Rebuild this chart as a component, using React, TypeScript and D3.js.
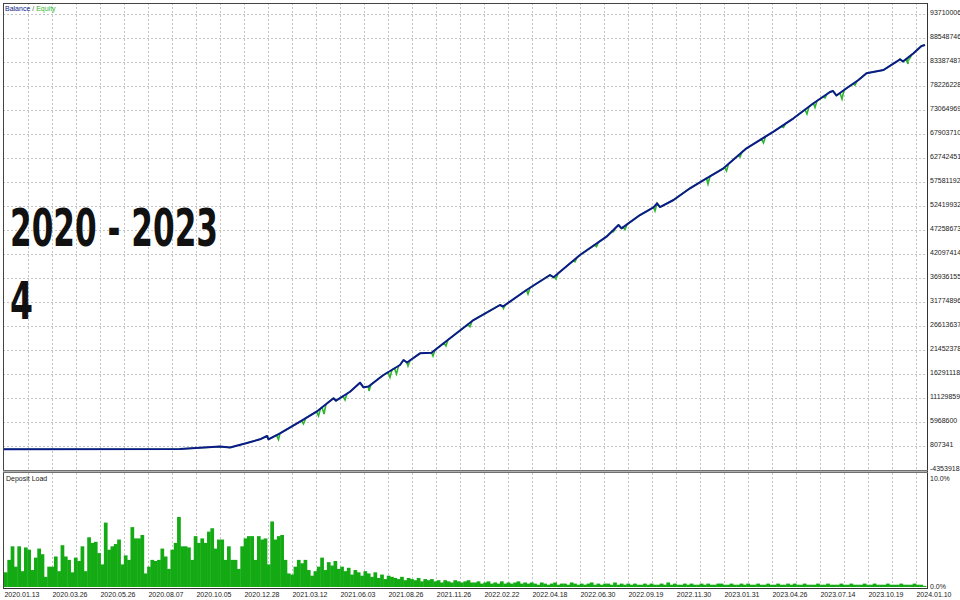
import * as d3 from "d3";

// right-hand axis of the balance panel
const yTickValues = [
  93710006, 88548746, 83387487, 78226228, 73064969, 67903710, 62742451,
  57581192, 52419932, 47258673, 42097414, 36936155, 31774896, 26613637,
  21452378, 16291118, 11129859, 5968600, 807341, -4353918,
];

const dateLabels = [
  "2020.01.13", "2020.03.26", "2020.05.26", "2020.08.07", "2020.10.05",
  "2020.12.28", "2021.03.12", "2021.06.03", "2021.08.26", "2021.11.26",
  "2022.02.22", "2022.04.18", "2022.06.30", "2022.09.19", "2022.11.30",
  "2023.01.31", "2023.04.26", "2023.07.14", "2023.10.19", "2024.01.10",
];

const totalTrades = 1842;

// [trade #, balance]
const balance: [number, number][] = [
  [0, 100000], [352, 160000], [392, 420000], [432, 680000], [452, 500000],
  [484, 1390000], [512, 2250000], [526, 2960000], [529, 2250000], [552, 3540000],
  [592, 6030000], [625, 8180000], [659, 11070000], [664, 10550000], [692, 12480000],
  [712, 14420000], [719, 13430000], [729, 13600000], [759, 16080000], [792, 18230000],
  [799, 19300000], [806, 18760000], [832, 20740000], [855, 20870000], [892, 23970000],
  [939, 27900000], [992, 31130000], [998, 30810000], [1045, 34360000], [1092, 37580000],
  [1099, 37090000], [1152, 41880000], [1205, 45820000], [1229, 48330000], [1235, 47620000],
  [1272, 50480000], [1299, 52140000], [1306, 53000000], [1312, 52200000], [1339, 53710000],
  [1372, 56230000], [1405, 58380000], [1439, 60530000], [1485, 64830000], [1539, 68400000],
  [1579, 71280000], [1619, 74510000], [1652, 76940000], [1658, 77150000], [1665, 76180000],
  [1685, 77730000], [1709, 79520000], [1725, 80960000], [1759, 81670000], [1785, 83450000],
  [1792, 83970000], [1798, 83500000], [1819, 85260000], [1835, 86830000], [1842, 87040000],
];

// [trade #, equity low] where equity falls under balance
const equityDips: [number, number][] = [
  [549, 2210000], [599, 5540000], [629, 7260000], [640, 7690000], [682, 10700000],
  [730, 12640000], [772, 15540000], [785, 16290000], [808, 18010000], [858, 20160000],
  [884, 22310000], [932, 26460000], [999, 30420000], [1048, 33500000], [1104, 36720000],
  [1142, 40440000], [1185, 43670000], [1219, 46890000], [1242, 47370000], [1302, 51340000],
  [1408, 57150000], [1445, 59950000], [1472, 62960000], [1519, 65970000], [1559, 69300000],
  [1606, 72200000], [1622, 73600000], [1642, 75650000], [1676, 75430000], [1702, 78440000],
  [1808, 82960000], [1812, 84250000],
];

// deposit load, %
const depositLoad = [
  1.3, 2.4, 3.6, 1.8, 3.6, 1.4, 3.5, 3.3, 1.5, 2.6, 3.4, 2.9, 0.9, 1.8, 1.8, 2.7,
  1.4, 3.7, 2.7, 2.4, 1.3, 2.6, 2.3, 3.6, 1.4, 4.4, 3.9, 4.0, 3.0, 2.0, 5.7, 3.3,
  3.6, 3.8, 4.2, 2.0, 2.8, 2.4, 5.3, 4.3, 4.3, 4.6, 1.2, 1.8, 2.4, 2.3, 2.4, 3.4,
  2.7, 1.6, 3.3, 3.9, 6.2, 3.6, 3.6, 3.5, 2.4, 4.5, 3.9, 4.3, 3.9, 4.9, 5.2, 3.4,
  4.2, 4.2, 2.4, 3.6, 2.4, 2.4, 1.6, 3.6, 4.3, 4.5, 4.5, 2.4, 4.5, 4.2, 4.3, 2.0,
  5.8, 4.2, 4.5, 4.6, 2.4, 1.2, 1.1, 1.8, 2.4, 2.1, 2.4, 1.5, 1.0, 1.4, 1.8,
  2.6, 1.5, 2.2, 1.9, 2.3, 1.6,
  1.8, 1.4, 1.7, 1.1, 1.5, 1.3, 1.0, 1.4,
  1.2, 0.9, 1.3, 0.8, 1.1, 0.7, 1.0, 0.9,
  0.8, 0.7, 0.9, 0.6, 0.8, 0.7, 0.6, 0.8, 0.5, 0.7, 0.6, 0.7,
  0.5, 0.6, 0.4, 0.6, 0.5, 0.4, 0.6, 0.5, 0.4, 0.5, 0.6, 0.4,
  0.4, 0.5, 0.3, 0.4, 0.5, 0.3, 0.4, 0.3, 0.5, 0.3, 0.4, 0.3, 0.4, 0.5, 0.3, 0.4, 0.3, 0.4,
  0.3, 0.2, 0.4, 0.3, 0.2, 0.3, 0.4, 0.2, 0.3, 0.3, 0.2, 0.4, 0.3, 0.2, 0.3, 0.2,
  0.3, 0.4, 0.2, 0.3, 0.2, 0.3, 0.3, 0.2, 0.4, 0.2, 0.3, 0.2, 0.3, 0.2, 0.3, 0.2,
  0.2, 0.3, 0.2, 0.3, 0.2, 0.2, 0.3, 0.2, 0.4, 0.2, 0.3, 0.2, 0.2, 0.3, 0.2, 0.3, 0.2, 0.2, 0.3, 0.2,
  0.3, 0.2, 0.2, 0.3, 0.3, 0.2, 0.2, 0.3, 0.2, 0.2, 0.3, 0.2, 0.3, 0.2, 0.2, 0.3, 0.2, 0.2, 0.3, 0.2,
  0.2, 0.3, 0.2, 0.2, 0.3, 0.2, 0.3, 0.2, 0.2, 0.3, 0.2, 0.2, 0.2, 0.3, 0.2, 0.2, 0.3, 0.2, 0.2, 0.2,
  0.3, 0.2, 0.2, 0.3, 0.2, 0.2, 0.2, 0.3, 0.2, 0.2, 0.3, 0.2, 0.2, 0.2, 0.3, 0.2, 0.2, 0.2, 0.3, 0.2,
  0.2, 0.2, 0.3, 0.2, 0.2, 0.1,
];

const font = "'Liberation Sans', Arial, sans-serif";
const navy = "#0c1a8a";
const green = "#2fb52f";
const barGreen = "#14aa14";
const gridColor = "#c4c4c4";

const left = 3;
const right = 927;
const mainTop = 3;
const mainBottom = 470;
const depTop = 473;
const depBottom = 588;

const App = () => {
  const x = d3.scaleLinear().domain([0, totalTrades]).range([4, 925]);
  const y = d3.scaleLinear().domain([-4353918, 93710006]).range([470, 14]);
  const xLabel = d3.scalePoint<string>().domain(dateLabels).range([22, 934]);
  const xBar = d3
    .scaleBand<number>()
    .domain(d3.range(depositLoad.length))
    .range([4, 926])
    .padding(0);
  const yDep = d3.scaleLinear().domain([0, 10]).range([587, 474]);

  const line = d3
    .line<[number, number]>()
    .x((d) => x(d[0]))
    .y((d) => y(d[1]));

  // balance value at any trade, for the base of the equity spikes
  const bis = d3.bisector((d: [number, number]) => d[0]).left;
  const balanceAt = (t: number) => {
    const i = Math.max(1, Math.min(balance.length - 1, bis(balance, t)));
    const a = balance[i - 1];
    const b = balance[i];
    return a[1] + ((t - a[0]) / (b[0] - a[0])) * (b[1] - a[1]);
  };

  const equity: [number, number][] = [...balance];
  equityDips.forEach(([t, v]) => {
    equity.push([t - 4, balanceAt(t - 4)], [t, v], [t + 4, balanceAt(t + 4)]);
  });
  equity.sort((a, b) => a[0] - b[0]);

  const vGrid = d3.range(1, 39).map((k) => 4 + 24 * k);

  return (
    <svg
      width={960}
      height={600}
      style={{ position: "absolute", left: 0, top: 0, background: "#fff" }}
      fontFamily={font}
    >
      <rect width={960} height={600} fill="#fff" />

      {/* grid */}
      <g stroke={gridColor} strokeDasharray="2,2" strokeWidth={1}>
        {yTickValues.slice(0, -1).map((v) => (
          <line key={v} x1={left} x2={right} y1={Math.round(y(v)) + 0.5} y2={Math.round(y(v)) + 0.5} />
        ))}
        {vGrid.map((gx) => (
          <g key={gx}>
            <line x1={gx + 0.5} x2={gx + 0.5} y1={mainTop} y2={mainBottom} />
            <line x1={gx + 0.5} x2={gx + 0.5} y1={depTop} y2={depBottom} />
          </g>
        ))}
      </g>

      {/* equity and balance */}
      <path d={line(equity) ?? ""} fill="none" stroke={green} strokeWidth={1.6} />
      <path d={line(balance) ?? ""} fill="none" stroke={navy} strokeWidth={2} strokeLinejoin="round" />

      {/* deposit load */}
      <g fill={barGreen}>
        {depositLoad.map((v, i) => (
          <rect
            key={i}
            x={xBar(i)}
            y={yDep(v)}
            width={xBar.bandwidth() + 0.4}
            height={yDep(0) - yDep(v)}
          />
        ))}
      </g>

      {/* frames */}
      <g fill="none">
        <line x1={left + 0.5} x2={left + 0.5} y1={mainTop} y2={depBottom} stroke="#444" />
        <line x1={left} x2={right} y1={mainTop + 0.5} y2={mainTop + 0.5} stroke="#444" />
        <line x1={right + 0.5} x2={right + 0.5} y1={mainTop} y2={depBottom + 1} stroke="#333" />
        <line x1={left} x2={right} y1={depBottom + 0.5} y2={depBottom + 0.5} stroke="#333" />
        <rect x={left} y={mainBottom} width={right - left} height={depTop - mainBottom} fill="#b0b0b0" />
        <line x1={left} x2={right + 1} y1={mainBottom + 0.5} y2={mainBottom + 0.5} stroke="#707070" />
        <line x1={left} x2={right + 1} y1={depTop - 0.5} y2={depTop - 0.5} stroke="#707070" />
      </g>

      {/* y axis labels */}
      <g fontSize={7} fill="#222">
        {yTickValues.map((v) => (
          <text key={v} x={930} y={y(v)} dy="0.2em">
            {v}
          </text>
        ))}
        <text x={930} y={481}>10.0%</text>
        <text x={930} y={yDep(0)} dy="0.3em">0.0%</text>
      </g>

      {/* date labels */}
      <g fontSize={7} fill="#222" textAnchor="middle">
        {dateLabels.map((d) => (
          <text key={d} x={xLabel(d)} y={597}>
            {d}
          </text>
        ))}
      </g>

      {/* legends */}
      <text x={5} y={11} fontSize={7}>
        <tspan fill={navy}>Balance</tspan>
        <tspan fill="#555"> / </tspan>
        <tspan fill={green}>Equity</tspan>
      </text>
      <text x={6} y={481} fontSize={7} fill="#222">
        Deposit Load
      </text>

      {/* title overlay */}
      <g
        fontFamily="'Liberation Sans Narrow', 'DejaVu Sans Condensed', sans-serif"
        fontWeight="bold"
        fontSize={52}
        fill="#111"
      >
        <text x={10} y={246} textLength={208} lengthAdjust="spacingAndGlyphs">
          2020 - 2023
        </text>
        <text x={10} y={319} textLength={23} lengthAdjust="spacingAndGlyphs">
          4
        </text>
      </g>
    </svg>
  );
};

export default App;
